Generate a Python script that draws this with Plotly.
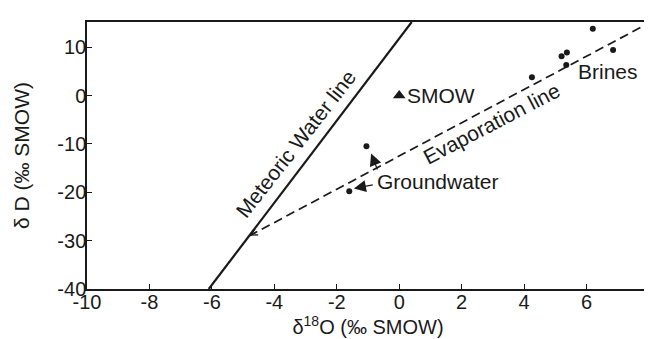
import plotly.graph_objects as go

# ---- data ----
x_ticks = [-10, -8, -6, -4, -2, 0, 2, 4, 6, 8]
x_tick_labels = ["-10", "-8", "-6", "-4", "-2", "0", "2", "4", "6", "8"]
y_ticks = [-40, -30, -20, -10, 0, 10]
y_tick_labels = ["-40", "-30", "-20", "-10", "0", "10"]

meteoric_x = [-6.1, 0.4]
meteoric_y = [-40.0, 15.2]

evap_x = [-4.8, 8.0]
evap_y = [-29.0, 15.0]

smow_x = [0.0]
smow_y = [0.0]

ground_x = [-1.05, -1.6]
ground_y = [-10.5, -19.8]

brine_x = [4.25, 5.2, 5.37, 5.35, 6.2, 6.85]
brine_y = [3.8, 8.1, 8.9, 6.3, 13.8, 9.4]

FONT = "Liberation Sans, Arial, sans-serif"
INK = "#1a1a1a"

fig = go.Figure()

fig.add_trace(go.Scatter(x=meteoric_x, y=meteoric_y, mode="lines",
                         line=dict(color=INK, width=2.2), hoverinfo="skip"))
fig.add_trace(go.Scatter(x=evap_x, y=evap_y, mode="lines",
                         line=dict(color=INK, width=1.7, dash="9px,5px"), hoverinfo="skip"))
fig.add_trace(go.Scatter(x=ground_x, y=ground_y, mode="markers",
                         marker=dict(color=INK, size=6)))
fig.add_trace(go.Scatter(x=brine_x, y=brine_y, mode="markers",
                         marker=dict(color=INK, size=6)))
fig.add_trace(go.Scatter(x=smow_x, y=smow_y, mode="markers",
                         marker=dict(color=INK, size=11, symbol="triangle-up")))

ann = []
def text(t, x, y, angle=0, xanchor="center", size=21):
    ann.append(dict(x=x, y=y, xref="x", yref="y", text=t, showarrow=False,
                    textangle=angle, xanchor=xanchor, yanchor="middle",
                    font=dict(family=FONT, size=size, color=INK)))

text("Meteoric Water line", -3.3, -10.0, angle=-52)
text("Evaporation line", 2.95, -5.7, angle=-27.5)
text("SMOW", 0.17, 0.0, xanchor="left")
text("Groundwater", -0.78, -17.7, xanchor="left")
text("Brines", 5.65, 5.0, xanchor="left")

# groundwater arrows
ann.append(dict(x=-0.90, y=-12.0, ax=-0.68, ay=-15.6, xref="x", yref="y",
                axref="x", ayref="y", text="", showarrow=True, arrowhead=2,
                arrowsize=2.0, arrowwidth=1.2, arrowcolor=INK))
ann.append(dict(x=-1.45, y=-19.2, ax=-0.80, ay=-18.4, xref="x", yref="y",
                axref="x", ayref="y", text="", showarrow=True, arrowhead=2,
                arrowsize=2.0, arrowwidth=1.2, arrowcolor=INK))
# open arrowhead at lower end of evaporation line
ann.append(dict(x=evap_x[0], y=evap_y[0], ax=evap_x[0] + 0.25,
                ay=evap_y[0] + 0.25 * (evap_y[1] - evap_y[0]) / (evap_x[1] - evap_x[0]),
                xref="x", yref="y", axref="x", ayref="y", text="", showarrow=True,
                arrowhead=5, arrowsize=1.1, arrowwidth=1.2, arrowcolor=INK))

axis_common = dict(showline=True, linecolor=INK, linewidth=1.5, mirror=True,
                   ticks="inside", ticklen=5, tickwidth=1.2, tickcolor=INK,
                   showgrid=False, zeroline=False,
                   tickfont=dict(family=FONT, size=20, color=INK))

fig.update_layout(
    width=652, height=339,
    margin=dict(l=79, r=5, t=14, b=58),
    paper_bgcolor="white", plot_bgcolor="white",
    showlegend=False,
    annotations=ann,
    xaxis=dict(range=[-10, 8], tickvals=x_ticks, ticktext=x_tick_labels,
               ticklabelstandoff=-6,
               title=dict(text="δ<sup>18</sup>O (‰ SMOW)", standoff=0,
                          font=dict(family=FONT, size=20, color=INK)),
               **axis_common),
    yaxis=dict(range=[-40, 15.2], tickvals=y_ticks, ticktext=y_tick_labels,
               ticklabelstandoff=-5,
               title=dict(text="δ D (‰ SMOW)", standoff=22,
                          font=dict(family=FONT, size=21, color=INK)),
               **axis_common),
)

fig.write_html("out.html")
